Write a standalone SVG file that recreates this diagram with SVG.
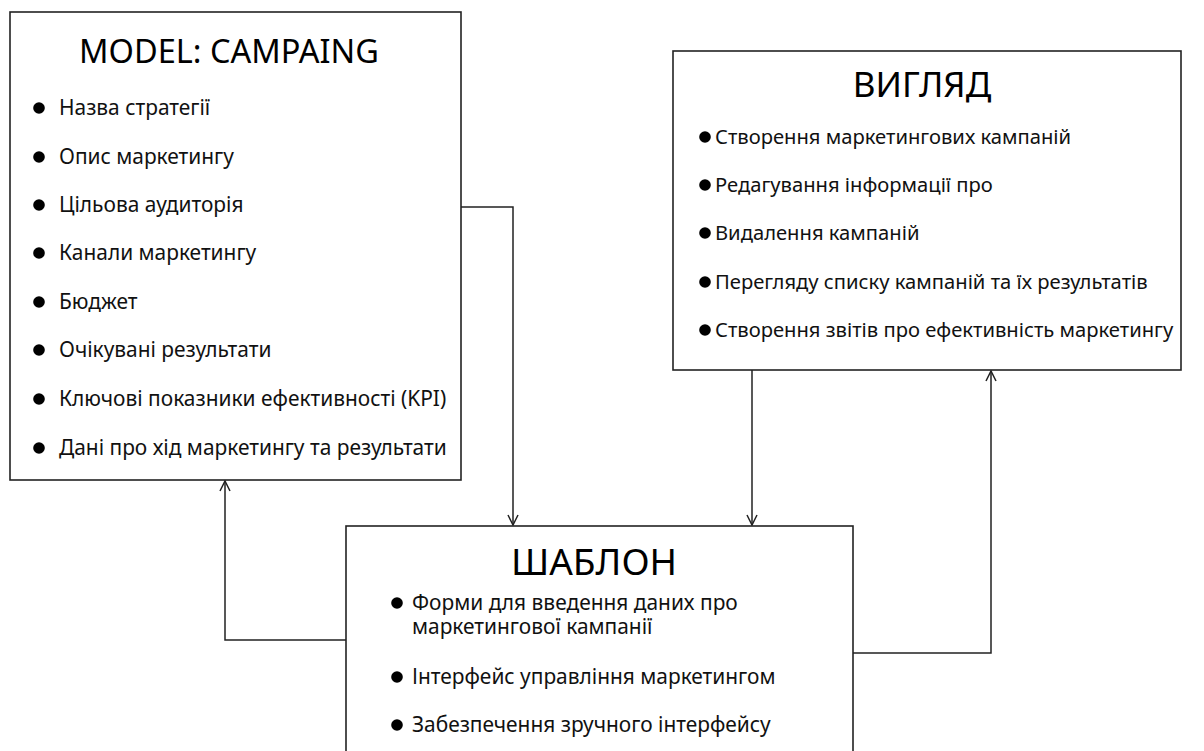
<svg xmlns="http://www.w3.org/2000/svg" width="1204" height="751" viewBox="0 0 1204 751">
<style>
.box{fill:#fff;stroke:#222;stroke-width:1.6}
.title{font-family:"Noto Sans","Open Sans",sans-serif;fill:#000;text-anchor:middle}
.item{font-family:"Noto Sans","Open Sans",sans-serif;fill:#111}
.b{fill:#000}
.conn{fill:none;stroke:#222;stroke-width:1.5}
</style>
<defs>
<marker id="arr" viewBox="0 0 12 12" refX="11" refY="6" markerWidth="12" markerHeight="12" markerUnits="userSpaceOnUse" orient="auto">
<path d="M1,1 L11,6 L1,11" fill="none" stroke="#222" stroke-width="1.5"/>
</marker>
</defs>
<rect width="1204" height="751" fill="#fff"/>
<g id="model">
<rect class="box" x="10" y="12" width="451" height="468"/>
<text class="title" x="229" y="63" font-size="32.5">MODEL: CAMPAING</text>
<g class="item" font-size="20.9">
<circle class="b" cx="39" cy="108" r="5.8"/><text x="59" y="115">Назва стратегії</text>
<circle class="b" cx="39" cy="157" r="5.8"/><text x="59" y="164">Опис маркетингу</text>
<circle class="b" cx="39" cy="205" r="5.8"/><text x="59" y="212">Цільова аудиторія</text>
<circle class="b" cx="39" cy="253" r="5.8"/><text x="59" y="260">Канали маркетингу</text>
<circle class="b" cx="39" cy="302" r="5.8"/><text x="59" y="309">Бюджет</text>
<circle class="b" cx="39" cy="350" r="5.8"/><text x="59" y="357">Очікувані результати</text>
<circle class="b" cx="39" cy="399" r="5.8"/><text x="59" y="406">Ключові показники ефективності (KPI)</text>
<circle class="b" cx="39" cy="448" r="5.8"/><text x="59" y="455">Дані про хід маркетингу та результати</text>
</g>
</g>
<g id="view">
<rect class="box" x="673" y="51" width="508" height="319"/>
<text class="title" x="922" y="97" font-size="35">ВИГЛЯД</text>
<g class="item" font-size="20.2">
<circle class="b" cx="705" cy="137" r="5.8"/><text x="715" y="144">Створення маркетингових кампаній</text>
<circle class="b" cx="705" cy="185" r="5.8"/><text x="715" y="192">Редагування інформації про</text>
<circle class="b" cx="705" cy="233" r="5.8"/><text x="715" y="240">Видалення кампаній</text>
<circle class="b" cx="705" cy="282" r="5.8"/><text x="715" y="289">Перегляду списку кампаній та їх результатів</text>
<circle class="b" cx="705" cy="330" r="5.8"/><text x="715" y="337">Створення звітів про ефективність маркетингу</text>
</g>
</g>
<g id="template">
<rect class="box" x="346" y="526" width="507" height="240"/>
<text class="title" x="594" y="575" font-size="37">ШАБЛОН</text>
<g class="item" font-size="20.9">
<circle class="b" cx="397" cy="603" r="5.8"/><text x="412" y="610">Форми для введення даних про<tspan x="412" dy="24">маркетингової кампанії</tspan></text>
<circle class="b" cx="397" cy="677" r="5.8"/><text x="412" y="684">Інтерфейс управління маркетингом</text>
<circle class="b" cx="397" cy="725" r="5.8"/><text x="412" y="732">Забезпечення зручного інтерфейсу</text>
</g>
</g>
<g id="connectors">
<path class="conn" d="M461,207 H513 V525" marker-end="url(#arr)"/>
<path class="conn" d="M752,370 V525" marker-end="url(#arr)"/>
<path class="conn" d="M346,640 H225 V481" marker-end="url(#arr)"/>
<path class="conn" d="M853,653 H991 V371" marker-end="url(#arr)"/>
</g>
</svg>
